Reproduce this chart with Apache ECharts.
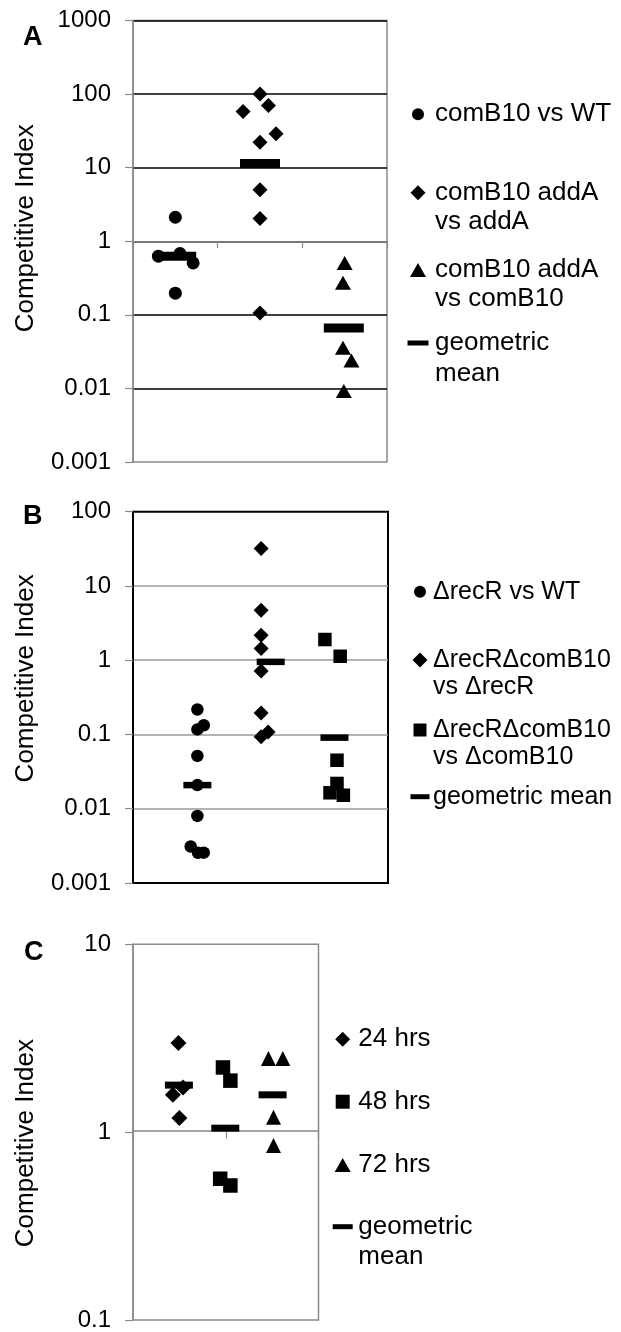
<!DOCTYPE html>
<html><head><meta charset="utf-8">
<script src="https://cdn.jsdelivr.net/npm/echarts@6/dist/echarts.min.js"></script>
<style>html,body{margin:0;padding:0;background:#fff}#c{width:621px;height:1332px}</style>
</head><body><div id="c"></div>
<script>
const FONT = '"Liberation Sans", Arial, Helvetica, sans-serif';

// ---------- Panel A (x in group units 0..3) ----------
const yTicksA = ['0.001', '0.01', '0.1', '1', '10', '100', '1000'];
const namesA = ['comB10 vs WT', 'comB10 addA\nvs addA', 'comB10 addA\nvs comB10', 'geometric\nmean'];
const circlesA = [[0.50, 2.12], [0.30, 0.626], [0.555, 0.68], [0.71, 0.507], [0.50, 0.197]];
const diamondsA = [[1.50, 100], [1.30, 58], [1.60, 70], [1.69, 28.9], [1.50, 22.2], [1.50, 5.0], [1.50, 2.03], [1.50, 0.106]];
const trianglesA = [[2.50, 0.507], [2.48, 0.272], [2.48, 0.0357], [2.58, 0.024], [2.49, 0.0092]];
const meansA = [[0.51, 0.626], [1.50, 11.4], [2.49, 0.066]];

// ---------- Panel B (x in group units 0..4) ----------
const yTicksB = ['0.001', '0.01', '0.1', '1', '10', '100'];
const namesB = ['\u0394recR vs WT', '\u0394recR\u0394comB10\nvs \u0394recR', '\u0394recR\u0394comB10\nvs \u0394comB10', 'geometric mean'];
const circlesB = [[1.01, 0.217], [1.01, 0.117], [1.11, 0.133], [1.01, 0.0515], [1.01, 0.0208], [1.01, 0.008], [0.905, 0.0031], [1.02, 0.00255], [1.11, 0.00256]];
const diamondsB = [[2.01, 31.9], [2.01, 4.71], [2.01, 2.17], [2.01, 1.44], [2.01, 0.718], [2.01, 0.195], [2.01, 0.093], [2.12, 0.108]];
const squaresB = [[3.01, 1.90], [3.25, 1.13], [3.20, 0.045], [3.20, 0.0219], [3.09, 0.0164], [3.30, 0.0152]];
const meansB = [[1.01, 0.0208], [2.16, 0.95], [3.16, 0.0907]];

// ---------- Panel C (x in group units 0..4) ----------
const yTicksC = ['0.1', '1', '10'];
const namesC = ['24 hrs', '48 hrs', '72 hrs', 'geometric\nmean'];
const diamondsC = [[0.98, 2.98], [0.86, 1.58], [1.08, 1.73], [1.00, 1.19]];
const squaresC = [[1.94, 2.21], [2.10, 1.88], [1.88, 0.565], [2.10, 0.52]];
const trianglesC = [[2.92, 2.47], [3.23, 2.47], [3.03, 1.20], [3.03, 0.85]];
const meansC = [[0.99, 1.78], [1.99, 1.05], [3.01, 1.58]];

const panelLetters = ['A', 'B', 'C'];
const yAxisTitle = 'Competitive Index';

// ---------- layout ----------
const grids = [
  {left: 133, top: 20.5, width: 254, height: 441.5, show: true, borderColor: '#8a8a8a', borderWidth: 1.5},
  {left: 133, top: 511.7, width: 255, height: 371.3, show: true, borderColor: '#000', borderWidth: 2},
  {left: 133, top: 944.3, width: 185.5, height: 377.4, show: true, borderColor: '#8a8a8a', borderWidth: 1.5}
];

function labelFmt(labels, minExp) {
  return v => labels[Math.round(Math.log10(v)) - minExp] || '';
}

function yAxis(gi, min, max, labels, minExp, opts) {
  return {
    type: 'log', logBase: 10, gridIndex: gi, min, max, z: 1,
    name: yAxisTitle, nameLocation: 'middle', nameRotate: 90, nameGap: 94,
    nameTextStyle: {fontSize: 26, color: '#000', fontFamily: FONT, padding: opts.namePad},
    axisLine: {show: true, lineStyle: {color: opts.lineColor, width: opts.lineWidth}},
    axisTick: {show: true, length: 8, lineStyle: {color: '#8a8a8a', width: 1.2}},
    axisLabel: {fontSize: 24, color: '#000', fontFamily: FONT, margin: 22, formatter: labelFmt(labels, minExp)},
    splitLine: opts.split ? {show: true, showMinLine: false, showMaxLine: opts.showMax, lineStyle: {color: opts.splitColor, width: opts.splitWidth}} : {show: false},
    minorTick: {show: false}, minorSplitLine: {show: false}
  };
}

const xAxes = [
  {type: 'value', gridIndex: 0, min: 0, max: 3, show: false},
  {type: 'value', gridIndex: 1, min: 0, max: 4, show: false},
  {type: 'value', gridIndex: 2, min: 0, max: 4, show: false},
  {type: 'category', gridIndex: 0, data: ['', '', ''], position: 'bottom', offset: 0, z: 10,
    axisLine: {show: true, lineStyle: {color: '#8a8a8a', width: 1.5}},
    axisTick: {show: true, length: 7, lineStyle: {color: '#8a8a8a', width: 1.2}},
    axisLabel: {show: false}, splitLine: {show: false}},
  {type: 'category', gridIndex: 2, data: ['', ''], position: 'bottom', offset: 0, z: 10,
    axisLine: {show: true, lineStyle: {color: '#8a8a8a', width: 1.5}},
    axisTick: {show: true, length: 8, lineStyle: {color: '#8a8a8a', width: 1.2}},
    axisLabel: {show: false}, splitLine: {show: false}}
];

const yAxes = [
  yAxis(0, 0.001, 1000, yTicksA, -3, {lineColor: '#8a8a8a', lineWidth: 1.5, split: true, showMax: true, splitColor: '#000', splitWidth: 1.6, namePad: [0, 0, 0, 26]}),
  yAxis(1, 0.001, 100, yTicksB, -3, {lineColor: '#000', lineWidth: 2, split: true, showMax: false, splitColor: '#9a9a9a', splitWidth: 1.6, namePad: [0, 0, 0, 38]}),
  yAxis(2, 0.1, 10, yTicksC, -1, {lineColor: '#8a8a8a', lineWidth: 1.5, split: false, namePad: [0, 22, 0, 0]})
];

function sc(name, gi, symbol, size, data) {
  return {type: 'scatter', name, xAxisIndex: gi, yAxisIndex: gi, symbol, symbolSize: size,
    itemStyle: {color: '#000', opacity: 1}, data, z: 20, silent: true, emphasis: {disabled: true}, animation: false};
}

const series = [
  sc(namesA[0], 0, 'circle', 13, circlesA),
  sc(namesA[1], 0, 'diamond', 15, diamondsA),
  sc(namesA[2], 0, 'triangle', [16, 14], trianglesA),
  sc(namesA[3], 0, 'rect', [40, 9], meansA),
  sc(namesB[0], 1, 'circle', 12.5, circlesB),
  sc(namesB[1], 1, 'diamond', 15, diamondsB),
  sc(namesB[2], 1, 'rect', 13.5, squaresB),
  sc(namesB[3], 1, 'rect', [28, 6.5], meansB),
  sc(namesC[0], 2, 'diamond', 16, diamondsC),
  sc(namesC[1], 2, 'rect', 14.5, squaresC),
  sc(namesC[2], 2, 'triangle', 15, trianglesC),
  sc(namesC[3], 2, 'rect', [28, 7], meansC)
];

// One legend component per entry; multi-line names get blank lines above so that
// the marker lines up with the first line of text, as in the original figure.
function legendItem(name, icon, w, h, cx, cy, textX, L, fs) {
  const lines = name.split('\n').length;
  const extra = lines - 1;
  const total = lines + extra;
  const H = total * L;
  const left = cx - w / 2;
  const padLeft = textX - (left + w + 5);
  const prefix = '\u00a0\n'.repeat(extra);
  return {
    show: true, selectedMode: false, orient: 'vertical', padding: 0,
    left: left, top: cy - H / 2, itemWidth: w, itemHeight: h, symbolKeepAspect: false,
    data: [{name, icon}],
    formatter: n => prefix + n,
    textStyle: {fontSize: fs, color: '#000', fontFamily: FONT, lineHeight: L,
      padding: [0, 0, 0, padLeft], backgroundColor: 'transparent'}
  };
}

const legends = [
  legendItem(namesA[0], 'circle', 12, 12, 418, 114.3, 435, 29, 26),
  legendItem(namesA[1], 'diamond', 15, 15, 418, 192.7, 435, 29, 26),
  legendItem(namesA[2], 'triangle', 16, 14, 418, 270, 435, 29, 26),
  legendItem(namesA[3], 'rect', 21, 5, 418, 343, 435, 31, 26),
  legendItem(namesB[0], 'circle', 12, 12, 420, 591.7, 433, 27, 25),
  legendItem(namesB[1], 'diamond', 15, 15, 420, 660, 433, 27, 25),
  legendItem(namesB[2], 'rect', 13, 13, 420, 730, 433, 27, 25),
  legendItem(namesB[3], 'rect', 19, 5, 420, 796.7, 433, 27, 25),
  legendItem(namesC[0], 'diamond', 15, 15, 342.7, 1039.3, 358.3, 30, 26),
  legendItem(namesC[1], 'rect', 14, 14, 342.7, 1101.7, 358.3, 30, 26),
  legendItem(namesC[2], 'triangle', 16, 14, 342.7, 1165, 358.3, 30, 26),
  legendItem(namesC[3], 'rect', 20, 5, 342.7, 1226.7, 358.3, 30, 26)
];

const letterPos = [[23, 24], [23, 503], [24, 939]];
const titles = panelLetters.map((t, i) => ({
  text: t, left: letterPos[i][0], top: letterPos[i][1], padding: 0,
  textStyle: {fontSize: 27, fontWeight: 'bold', color: '#000', fontFamily: FONT}
}));

const chart = echarts.init(document.getElementById('c'), null, {renderer: 'canvas'});
chart.setOption({
  animation: false, backgroundColor: '#fff',
  title: titles, grid: grids, xAxis: xAxes, yAxis: yAxes, legend: legends, series
});

// Place the category axes (with their boundary ticks) on the value 1 line, as in the original.
const yOneA = chart.convertToPixel({yAxisIndex: 0}, 1);
const yOneC = chart.convertToPixel({yAxisIndex: 2}, 1);
const bottomA = grids[0].top + grids[0].height;
const bottomC = grids[2].top + grids[2].height;
chart.setOption({xAxis: [{}, {}, {}, {offset: yOneA - bottomA}, {offset: yOneC - bottomC}]});
</script></body></html>
